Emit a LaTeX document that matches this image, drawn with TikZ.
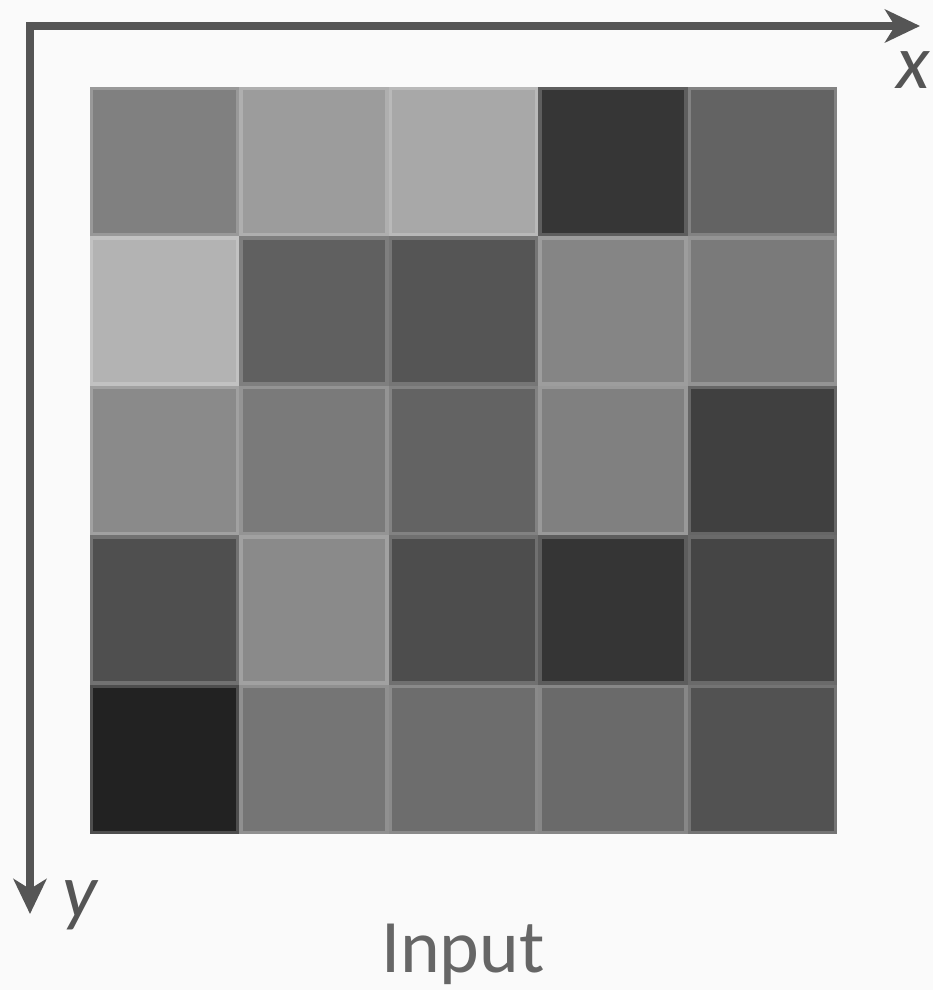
\documentclass[tikz,border=0pt]{standalone}
\usepackage{fontspec}
\setmainfont{Carlito}
\usetikzlibrary{arrows.meta}
\definecolor{axisgray}{HTML}{555555}
\definecolor{textgray}{HTML}{666666}
\definecolor{paper}{HTML}{FAFAFA}
\tikzset{
  cell/.style={draw, line width=0.07cm, minimum size=2.92cm, inner sep=0pt},
  axis/.style={draw=axisgray, line width=0.16cm, -{Stealth[length=0.7cm, width=0.66cm, inset=0.2cm]}},
  axislabel/.style={text=axisgray, font=\fontsize{44}{48}\selectfont\itshape, inner sep=0pt},
}
\begin{document}
\begin{tikzpicture}[x=0.02cm, y=-0.02cm]
\useasboundingbox[fill=paper] (0,0) rectangle (933,990);
% pixel values, row by row
\foreach \vals [count=\r] in {{128,156,168,54,99},{179,96,85,133,122},{138,122,99,128,64},{79,138,77,53,69},{34,117,109,106,82}}{
  \foreach \v [count=\c] in \vals {
    \pgfmathtruncatemacro{\e}{\v+(255-\v)*0.2}
    \node[cell, fill={rgb,255:red,\v;green,\v;blue,\v}, draw={rgb,255:red,\e;green,\e;blue,\e}]
      (c-\r-\c) at ({90+149.4*(\c-0.5)}, {87+149.4*(\r-0.5)}) {};
  }
}
% axes
\coordinate (origin) at (30,26);
\coordinate (xend) at (920,26);
\coordinate (yend) at (30,914);
\draw[axis] ([xshift=-0.08cm]origin) -- (xend);
\draw[axis] (origin) -- (yend);
\node[axislabel] (xlab) at (913,70) {x};
\node[axislabel] (ylab) at (80,905) {y};
\node[text=textgray, font=\fontsize{43}{48}\selectfont, anchor=base] (input) at (463,972) {Input};
\end{tikzpicture}
\end{document}
